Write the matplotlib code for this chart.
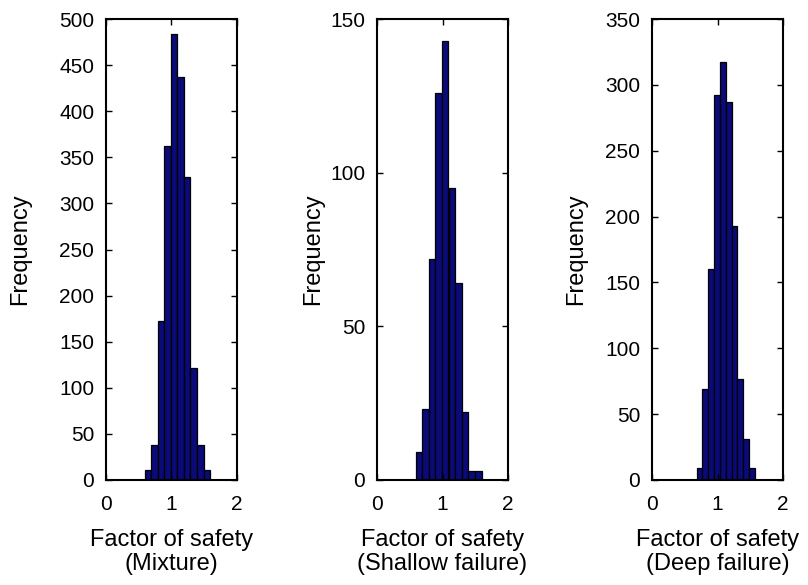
import matplotlib.pyplot as plt

plt.rcParams['font.family'] = ['Liberation Sans', 'DejaVu Sans']

# histogram bin centres and counts for the three cases
centers_mix = [0.64, 0.74, 0.84, 0.94, 1.04, 1.14, 1.24, 1.34, 1.44, 1.54]
counts_mix = [11, 38, 172, 362, 484, 437, 329, 121, 38, 11]

centers_shallow = [0.64, 0.74, 0.84, 0.94, 1.04, 1.145, 1.245, 1.345, 1.445, 1.55]
counts_shallow = [9, 23, 72, 126, 143, 95, 64, 22, 3, 3]

centers_deep = [0.725, 0.814, 0.903, 0.992, 1.081, 1.17, 1.259, 1.348, 1.437, 1.526]
counts_deep = [9, 69, 160, 292, 317, 287, 193, 77, 31, 9]

xlabels = ['Factor of safety\n(Mixture)', 'Factor of safety\n(Shallow failure)',
           'Factor of safety\n(Deep failure)']
ymax = [500, 150, 350]
ystep = [50, 50, 50]
widths = [0.1, 0.101, 0.089]

fig = plt.figure(figsize=(8.08, 5.85), dpi=100)
lefts = [0.1312, 0.4666, 0.807]
ylab_x = [-0.573, -0.40, -0.496]
panels = [(centers_mix, counts_mix), (centers_shallow, counts_shallow),
          (centers_deep, counts_deep)]

for i, (c, n) in enumerate(panels):
    ax = fig.add_axes([lefts[i], 0.1795, 0.1621, 0.788])
    ax.bar(c, n, width=widths[i], color='#0a0a78', edgecolor='black', linewidth=0.9)
    ax.set_xlim(0, 2)
    ax.set_ylim(0, ymax[i])
    ax.set_xticks([0, 1, 2])
    ax.set_yticks(range(0, ymax[i] + 1, ystep[i]))
    ax.tick_params(direction='in', top=True, right=True, length=4, width=1,
                   labelsize=15, pad=8.5)
    ax.tick_params(axis='x', pad=10.5)
    for s in ax.spines.values():
        s.set_linewidth(1.5)
    ax.set_ylabel('Frequency', fontsize=17)
    ax.yaxis.set_label_coords(ylab_x[i], 0.5)
    ax.set_xlabel(xlabels[i], fontsize=17, labelpad=11, linespacing=1.1)

fig.savefig('out.png', dpi=100)
